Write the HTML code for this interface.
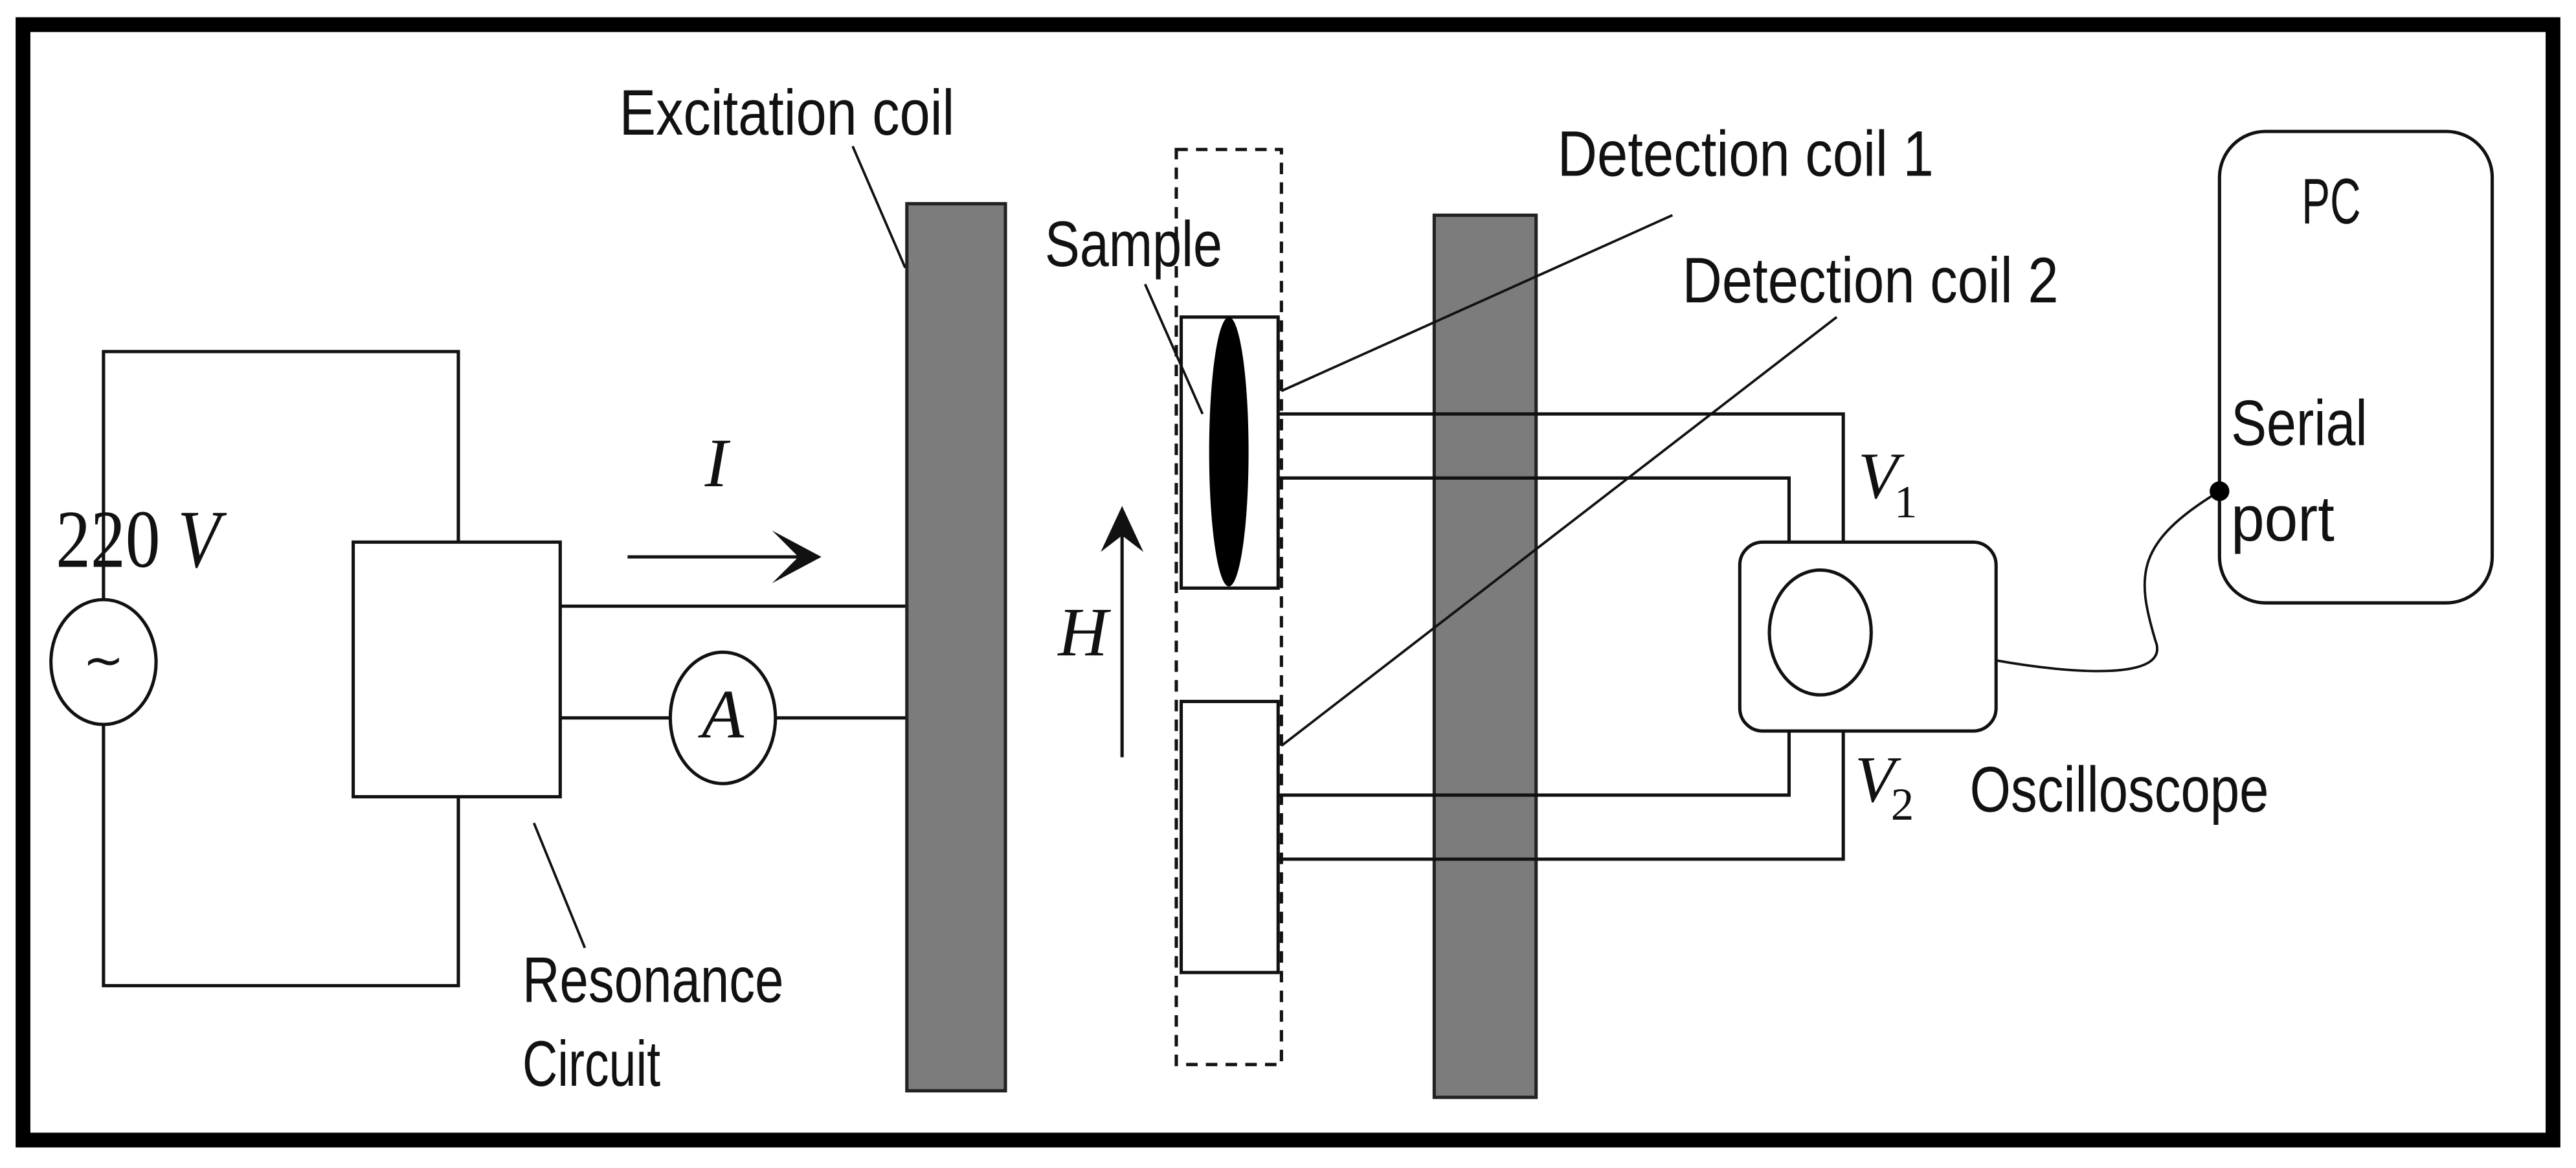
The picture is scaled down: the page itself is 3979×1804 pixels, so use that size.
<!DOCTYPE html>
<html><head><meta charset="utf-8"><style>
html,body{margin:0;padding:0;background:#fff;}
svg{display:block;}
.t{font-family:"Liberation Sans Narrow","Liberation Sans",sans-serif;font-size:39px;fill:#111;}
.m{font-family:"Liberation Serif",serif;font-style:italic;fill:#111;}
</style></head><body>
<svg width="3979" height="1804" viewBox="0 0 1568 711" preserveAspectRatio="none" xmlns="http://www.w3.org/2000/svg">
<rect x="0" y="0" width="1568" height="711" fill="#fff"/>
<rect x="14" y="15" width="1540" height="679" fill="none" stroke="#000" stroke-width="9"/>
<g fill="none" stroke="#111" stroke-width="2">
<polyline points="63,365 63,214 279,214 279,330"/>
<polyline points="63,441 63,600 279,600 279,485"/>
<ellipse cx="63" cy="403" rx="32" ry="38" fill="#fff"/>
<rect x="215" y="330" width="126" height="155"/>
<line x1="341" y1="369" x2="552" y2="369"/>
<line x1="341" y1="437" x2="408" y2="437"/>
<line x1="472" y1="437" x2="552" y2="437"/>
<ellipse cx="440" cy="437" rx="32" ry="40" fill="#fff"/>
<line x1="382" y1="339" x2="490" y2="339"/>
<line x1="325" y1="501" x2="356" y2="577" stroke-width="1.5"/>
<line x1="683" y1="461" x2="683" y2="318"/>
<rect x="716" y="91" width="64" height="557" stroke-dasharray="7,5"/>
<rect x="719" y="193" width="59" height="165"/>
<rect x="719" y="427" width="59" height="165"/>
<line x1="697" y1="173" x2="732" y2="252" stroke-width="1.5"/>
</g>
<rect x="552" y="124" width="60" height="540" fill="#7c7c7c" stroke="#222" stroke-width="2"/>
<rect x="873" y="131" width="62" height="537" fill="#7c7c7c" stroke="#222" stroke-width="2"/>
<g fill="none" stroke="#111" stroke-width="2">
<line x1="519" y1="89" x2="551" y2="163" stroke-width="1.5"/>
<polyline points="778,252 1122,252 1122,330"/>
<polyline points="778,291 1089,291 1089,330"/>
<polyline points="778,484 1089,484 1089,445"/>
<polyline points="778,523 1122,523 1122,445"/>
<line x1="1018" y1="131" x2="780" y2="238" stroke-width="1.5"/>
<line x1="1118" y1="193" x2="780" y2="454" stroke-width="1.5"/>
<path d="M1215,402 C1260,410 1322,415 1312,390 C1300,350 1300,330 1351,299" stroke-width="1.5"/>
</g>
<ellipse cx="748" cy="275" rx="12" ry="82" fill="#000"/>
<path d="M470,323 L500,339 L470,355 L486,339 Z" fill="#111"/>
<path d="M683,308 L670,336 L683,326 L696,336 Z" fill="#111"/>
<rect x="1059" y="330" width="156" height="115" rx="14" fill="#fff" stroke="#111" stroke-width="2"/>
<ellipse cx="1108" cy="385" rx="31" ry="38" fill="none" stroke="#111" stroke-width="2"/>
<rect x="1351" y="80" width="166" height="287" rx="28" fill="none" stroke="#111" stroke-width="2"/>
<circle cx="1351" cy="299" r="6" fill="#000"/>
<text x="34" y="345" font-family="Liberation Serif" font-size="50" fill="#111" textLength="100" lengthAdjust="spacingAndGlyphs">220 <tspan font-style="italic">V</tspan></text>
<text x="63" y="412" font-family="DejaVu Sans" font-size="30" text-anchor="middle" fill="#111">~</text>
<text class="m" x="429" y="296" font-size="42">I</text>
<text class="m" x="440" y="449" font-size="42" text-anchor="middle">A</text>
<text class="m" x="644" y="399" font-size="42">H</text>
<text class="t" x="377" y="82" textLength="204" lengthAdjust="spacingAndGlyphs">Excitation coil</text>
<text class="t" x="636" y="162" textLength="108" lengthAdjust="spacingAndGlyphs">Sample</text>
<text class="t" x="948" y="107" textLength="229" lengthAdjust="spacingAndGlyphs">Detection coil 1</text>
<text class="t" x="1024" y="184" textLength="229" lengthAdjust="spacingAndGlyphs">Detection coil 2</text>
<text class="t" x="318" y="610" textLength="159" lengthAdjust="spacingAndGlyphs">Resonance</text>
<text class="t" x="318" y="661" textLength="84" lengthAdjust="spacingAndGlyphs">Circuit</text>
<text class="t" x="1199" y="494" textLength="182" lengthAdjust="spacingAndGlyphs">Oscilloscope</text>
<text class="t" x="1401" y="136" textLength="36" lengthAdjust="spacingAndGlyphs">PC</text>
<text class="t" x="1358" y="271" textLength="83" lengthAdjust="spacingAndGlyphs">Serial</text>
<text class="t" x="1358" y="329" textLength="63" lengthAdjust="spacingAndGlyphs">port</text>
<text class="m" x="1131" y="303" font-size="40">V</text><text x="1153" y="315" font-family="Liberation Serif" font-size="28" fill="#111">1</text>
<text class="m" x="1129" y="488" font-size="40">V</text><text x="1151" y="499" font-family="Liberation Serif" font-size="28" fill="#111">2</text>
</svg>
</body></html>
